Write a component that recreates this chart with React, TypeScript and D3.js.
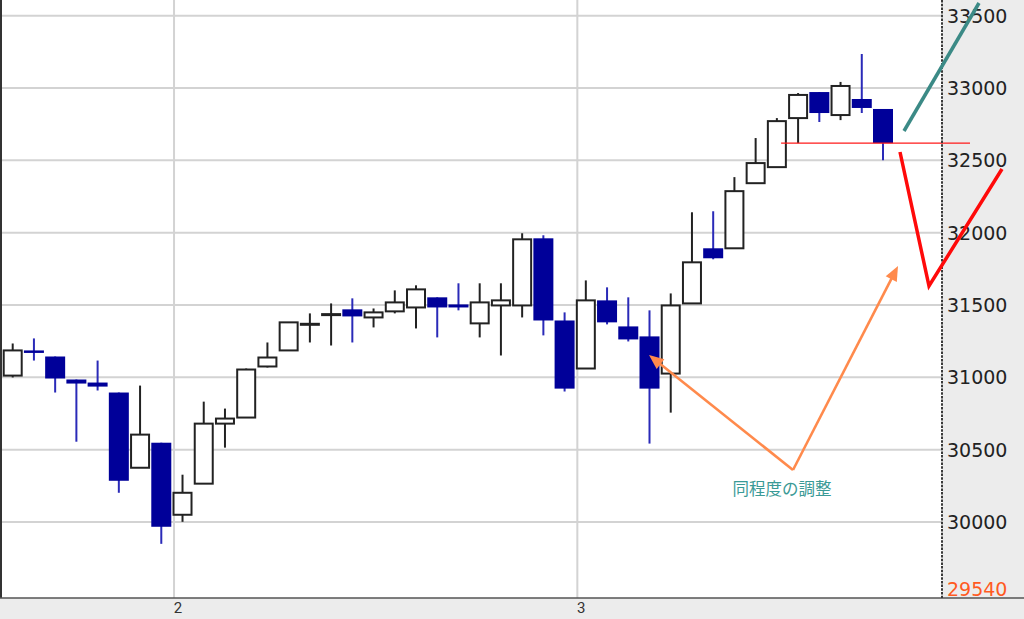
import React from 'react';
import * as d3 from 'd3';

// OHLC of each bar
const opens = [31012, 31186, 31144, 30985, 30964, 30895, 30375, 30548, 30050, 30265, 30680, 30722, 31075, 31186, 31365, 31435, 31470, 31414, 31456, 31483, 31553, 31504, 31373, 31497, 31497, 31961, 31393, 31061, 31532, 31352, 31283, 31026, 31511, 31892, 31892, 32342, 32453, 32792, 32972, 32813, 32924, 32855];
const highs = [31234, 31269, 31144, 30985, 31116, 30895, 30943, 30548, 30327, 30832, 30784, 31061, 31241, 31380, 31442, 31511, 31546, 31476, 31601, 31636, 31553, 31650, 31650, 31650, 31996, 31982, 31449, 31670, 31622, 31553, 31463, 31580, 32141, 32148, 32384, 32654, 32792, 32965, 32972, 33042, 33235, 32855];
const lows = [30999, 31116, 30895, 30555, 30909, 30202, 30375, 29849, 30001, 30265, 30514, 30722, 31068, 31186, 31241, 31220, 31241, 31345, 31442, 31338, 31276, 31463, 31276, 31151, 31414, 31290, 30902, 31061, 31366, 31248, 30542, 30756, 31511, 31816, 31892, 32342, 32453, 32619, 32765, 32778, 32827, 32501];
const closes = [31186, 31172, 30992, 30957, 30936, 30285, 30604, 29967, 30202, 30680, 30715, 31054, 31137, 31380, 31370, 31437, 31421, 31449, 31518, 31608, 31483, 31483, 31518, 31532, 31954, 31393, 30922, 31532, 31380, 31262, 30922, 31497, 31795, 31823, 32287, 32481, 32771, 32952, 32827, 33014, 32862, 32619];

const yTicks = [30000, 30500, 31000, 31500, 32000, 32500, 33000, 33500];
const dayLabels = ['2', '3'];
const dayStartIndex = [8, 27];
const minLabel = 29540;
const annotationText = '同程度の調整';

const W = 1024;
const H = 619;
const plotRight = 942;
const plotBottom = 598;

export default function App() {
  const x = d3.scaleLinear().domain([0, opens.length - 1]).range([12.7, 883]);
  const y = d3.scaleLinear().domain([30000, 33000]).range([522, 88]);
  const bodyW = 20;
  const blue = '#000099';
  const blueWick = '#2a2ab8';

  const refLevel = closes[closes.length - 1];

  const orange = '#ff8a4c';
  const arrowTail: [number, number] = [793, 470];
  const arrowHeads: [number, number][] = [[649, 355], [898, 266]];

  const line = d3.line();

  return (
    <svg width={W} height={H} style={{ position: 'absolute', left: 0, top: 0, background: '#fff' }}>
      <rect x={0} y={0} width={W} height={H} fill="#fff" />
      {/* right axis panel */}
      <rect x={plotRight} y={0} width={W - plotRight} height={plotBottom} fill="#ececec" />
      <rect x={0} y={plotBottom} width={W} height={H - plotBottom} fill="#ececec" />
      {/* grid */}
      {yTicks.map((t) => (
        <line key={'g' + t} x1={0} x2={plotRight} y1={y(t)} y2={y(t)} stroke="#d3d3d3" strokeWidth={2} />
      ))}
      {dayStartIndex.map((i) => (
        <line key={'v' + i} x1={x(i - 0.4)} x2={x(i - 0.4)} y1={0} y2={plotBottom} stroke="#d3d3d3" strokeWidth={2} />
      ))}
      {/* candles */}
      {opens.map((o, i) => {
        const c = closes[i];
        const up = c >= o;
        const cx = x(i);
        const top = y(Math.max(o, c));
        const bot = y(Math.min(o, c));
        const h = Math.max(bot - top, up ? 1 : 2.5);
        return (
          <g key={i}>
            <line x1={cx} x2={cx} y1={y(highs[i])} y2={y(lows[i])} stroke={up ? '#222' : blueWick} strokeWidth={2} />
            {up ? (
              <rect x={cx - bodyW / 2 + 1} y={top} width={bodyW - 2} height={h} fill="#fff" stroke="#222" strokeWidth={2} />
            ) : (
              <rect x={cx - bodyW / 2} y={top} width={bodyW} height={h} fill={blue} />
            )}
          </g>
        );
      })}
      {/* reference level */}
      <line x1={x(36.2)} x2={970} y1={y(refLevel)} y2={y(refLevel)} stroke="#ff1a1a" strokeWidth={1.2} />
      {/* borders */}
      <line x1={1} x2={1} y1={0} y2={plotBottom} stroke="#333" strokeWidth={2} />
      <line x1={0} x2={W} y1={plotBottom} y2={plotBottom} stroke="#555" strokeWidth={1.6} />
      <line x1={plotRight} x2={plotRight} y1={0} y2={plotBottom} stroke="#3a3a3a" strokeWidth={2} strokeDasharray="2.5,1.2" />
      {/* axis labels */}
      {yTicks.map((t) => (
        <text key={'t' + t} x={947} y={y(t)} dy="0.36em" fontFamily="DejaVu Sans, Verdana, sans-serif" fontSize={19} fill="#222">
          {t}
        </text>
      ))}
      <text x={947} y={595.5} fontFamily="DejaVu Sans, Verdana, sans-serif" fontSize={19} fill="#ff5a1f">{minLabel}</text>
      {dayStartIndex.map((i, k) => (
        <text key={'d' + i} x={x(i - 0.4) + 4} y={608} dy="0.36em" textAnchor="middle" fontFamily="Roboto, sans-serif" fontSize={15} fill="#333">
          {dayLabels[k]}
        </text>
      ))}
      {/* scenario lines */}
      <path d={line([[904, 131], [979, 3]]) || ''} stroke="#3b8a86" strokeWidth={3.5} fill="none" />
      <path d={line([[900, 152], [929, 286], [1002, 169]]) || ''} stroke="#ff0a0a" strokeWidth={3.5} fill="none" strokeLinejoin="miter" />
      {/* arrows */}
      {arrowHeads.map((hd, k) => {
        const ang = Math.atan2(hd[1] - arrowTail[1], hd[0] - arrowTail[0]);
        const L = 16, wA = 0.4;
        const p1: [number, number] = [hd[0] - L * Math.cos(ang - wA), hd[1] - L * Math.sin(ang - wA)];
        const p2: [number, number] = [hd[0] - L * Math.cos(ang + wA), hd[1] - L * Math.sin(ang + wA)];
        const base: [number, number] = [hd[0] - L * 0.8 * Math.cos(ang), hd[1] - L * 0.8 * Math.sin(ang)];
        return (
          <g key={'a' + k}>
            <path d={line([arrowTail, base]) || ''} stroke={orange} strokeWidth={2.6} fill="none" />
            <path d={(line([hd, p1, p2]) || '') + 'Z'} fill={orange} />
          </g>
        );
      })}
      <text x={782} y={489} dy="0.36em" textAnchor="middle" fontFamily="Noto Sans CJK JP, sans-serif" fontSize={16.5} fill="#3a9a96">
        {annotationText}
      </text>
    </svg>
  );
}
